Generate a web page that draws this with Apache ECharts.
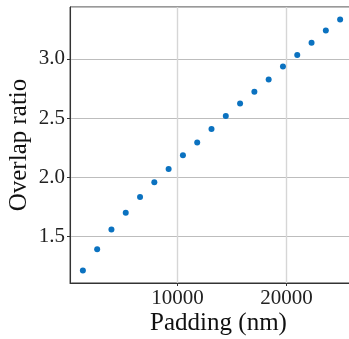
<!DOCTYPE html>
<html>
<head>
<meta charset="utf-8">
<script src="https://cdn.jsdelivr.net/npm/echarts@6/dist/echarts.min.js"></script>
<style>
  html, body { margin: 0; padding: 0; background: #fff; }
  #chart { width: 349px; height: 339px; }
</style>
</head>
<body>
<div id="chart"></div>
<script>
// padding (nm) and overlap ratio
var padding = [1311, 2622, 3933, 5244, 6555, 7866, 9177, 10488, 11799, 13110,
  14421, 15732, 17043, 18354, 19665, 20976, 22287, 23598, 24909];
var overlap = [1.212, 1.392, 1.559, 1.700, 1.833, 1.958, 2.070, 2.186, 2.293, 2.407,
  2.517, 2.624, 2.723, 2.827, 2.935, 3.034, 3.136, 3.240, 3.333];
var xTicks = [10000, 20000];
var yTicks = [1.5, 2.0, 2.5, 3.0];

var font = "'Liberation Serif', 'Times New Roman', serif";
var points = padding.map(function (x, i) { return [x, overlap[i]]; });

var myChart = echarts.init(document.getElementById("chart"));
myChart.setOption({
  animation: false,
  grid: {
    left: 70,
    right: -4,
    top: 7,
    bottom: 56,
    outerBoundsMode: "none",
    containLabel: false,
    show: true,
    borderColor: "#333",
    borderWidth: 1
  },
  xAxis: {
    type: "value",
    min: 131,
    max: 26089,
    splitNumber: 2,
    name: "Padding (nm)",
    nameLocation: "middle",
    nameGap: 28,
    nameMoveOverlap: false,
    nameTextStyle: { fontFamily: font, fontSize: 25, color: "#111", padding: [0, 0, 0, 14] },
    axisLine: { lineStyle: { color: "#333" } },
    axisTick: { show: true, length: 3, lineStyle: { color: "#333" } },
    axisLabel: {
      fontFamily: font, fontSize: 21, color: "#222", margin: 5,
      showMinLabel: false, showMaxLabel: false,
      formatter: function (v) { return xTicks.indexOf(v) >= 0 ? String(v) : ""; }
    },
    splitLine: { lineStyle: { color: "#d6d6d6", width: 1.4 } }
  },
  yAxis: {
    type: "value",
    min: 1.106,
    max: 3.439,
    splitNumber: 5,
    name: "Overlap ratio",
    nameLocation: "middle",
    nameGap: 38,
    nameMoveOverlap: false,
    nameTextStyle: { fontFamily: font, fontSize: 25, color: "#111" },
    axisLine: { show: true, lineStyle: { color: "#333" } },
    axisTick: { show: true, length: 3, lineStyle: { color: "#333" } },
    axisLabel: {
      fontFamily: font, fontSize: 21, color: "#222", margin: 5,
      showMinLabel: false, showMaxLabel: false,
      formatter: function (v) {
        return yTicks.indexOf(Math.round(v * 10) / 10) >= 0 && Math.abs(v * 10 - Math.round(v * 10)) < 1e-6 ? v.toFixed(1) : "";
      }
    },
    splitLine: { lineStyle: { color: "#bdbdbd", width: 1 } }
  },
  series: [
    {
      type: "scatter",
      data: points,
      symbolSize: 6,
      itemStyle: { color: "#0b72c0", opacity: 1 }
    }
  ]
});
</script>
</body>
</html>
